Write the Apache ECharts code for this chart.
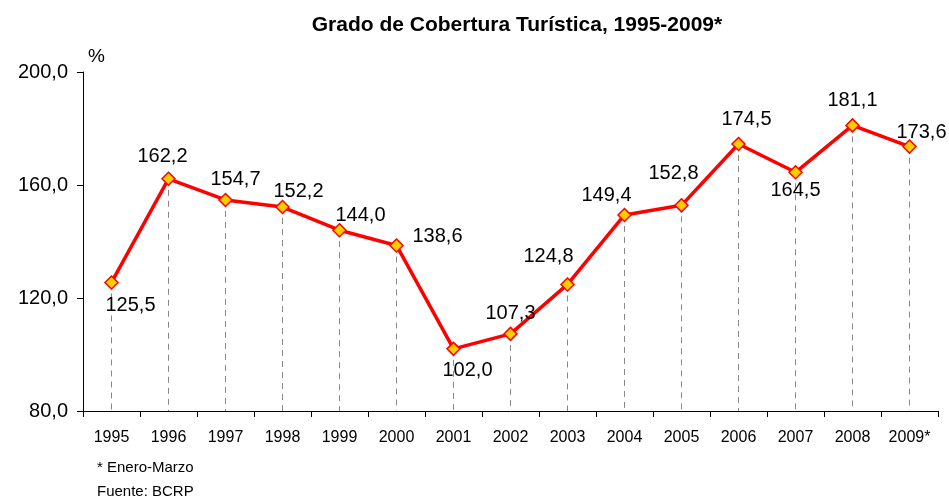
<!DOCTYPE html>
<html>
<head>
<meta charset="utf-8">
<script src="https://cdn.jsdelivr.net/npm/echarts@6/dist/echarts.min.js"></script>
<style>
  html, body { margin: 0; padding: 0; background: #fff; }
  #chart { width: 949px; height: 502px; }
</style>
</head>
<body>
<div id="chart"></div>
<script>
const years = ["1995", "1996", "1997", "1998", "1999", "2000", "2001", "2002",
  "2003", "2004", "2005", "2006", "2007", "2008", "2009*"];
const coverage = [125.5, 162.2, 154.7, 152.2, 144.0, 138.6, 102.0, 107.3,
  124.8, 149.4, 152.8, 174.5, 164.5, 181.1, 173.6];
// label offsets from each marker, in px
const labelOffsets = [[19, 23], [-6, -22], [10, -20], [16, -16], [21, -15], [41, -9],
  [14, 22], [0, -20], [-19, -28], [-18, -19], [-8, -32], [8, -25], [0, 18], [0, -25], [12, -14]];

const fmt = v => v.toFixed(1).replace(".", ",");

let chartDom = document.getElementById("chart");
let myChart = echarts.init(chartDom);

const dropLines = years.map((y, i) => [
  { coord: [y, coverage[i]] },
  { coord: [y, 80] }
]);

const option = {
  animation: false,
  textStyle: { fontFamily: "Liberation Sans, Arial, sans-serif" },
  title: {
    text: "Grado de Cobertura Turística, 1995-2009*",
    left: 512,
    textAlign: "center",
    top: 10,
    textStyle: { fontSize: 21, fontWeight: "bold", color: "#000" }
  },
  graphic: [
    { type: "text", left: 88, top: 47, style: { text: "%", font: "19px Liberation Sans", fill: "#000" } },
    { type: "text", left: 97, top: 460, style: { text: "* Enero-Marzo", font: "15px Liberation Sans", fill: "#000" } },
    { type: "text", left: 97, top: 484, style: { text: "Fuente: BCRP", font: "15px Liberation Sans", fill: "#000" } }
  ],
  grid: { left: 83, right: 11, top: 72, bottom: 91 },
  xAxis: {
    type: "category",
    data: years,
    boundaryGap: true,
    axisLine: { lineStyle: { color: "#000", width: 1 } },
    axisTick: { show: true, length: 6, alignWithLabel: false, lineStyle: { color: "#000" } },
    axisLabel: { color: "#000", fontSize: 16, margin: 19, interval: 0 }
  },
  yAxis: {
    type: "value",
    min: 80,
    max: 200,
    interval: 40,
    axisLine: { show: true, lineStyle: { color: "#000", width: 1 } },
    axisTick: { show: true, length: 6, lineStyle: { color: "#000" } },
    splitLine: { show: false },
    axisLabel: { color: "#000", fontSize: 20, margin: 15, formatter: v => fmt(v) }
  },
  series: [
    {
      type: "line",
      data: coverage.map((v, i) => ({
        value: v,
        label: { offset: labelOffsets[i] }
      })),
      symbol: "diamond",
      symbolSize: 13,
      z: 5,
      lineStyle: { color: "#ff0000", width: 3.5 },
      itemStyle: { color: "#ffcc00", borderColor: "#ff0000", borderWidth: 1.5 },
      label: {
        show: true,
        position: "inside",
        color: "#000",
        fontSize: 20,
        formatter: p => fmt(p.value)
      },
      markLine: {
        silent: true,
        symbol: "none",
        label: { show: false },
        lineStyle: { color: "#888", type: [6, 5], width: 1 },
        z: 1,
        data: dropLines
      }
    }
  ]
};

option && myChart.setOption(option);
</script>
</body>
</html>
